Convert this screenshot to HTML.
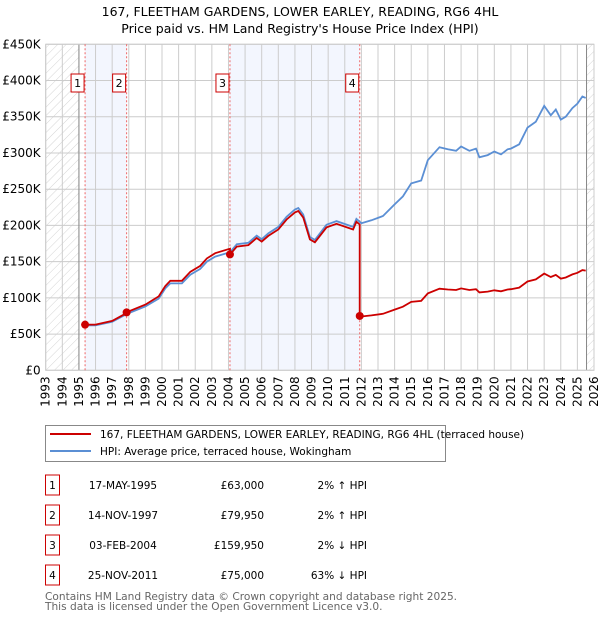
<!DOCTYPE html>
<html><head><meta charset="utf-8"><style>
body{margin:0;background:#fff;font-family:"DejaVu Sans","Liberation Sans",sans-serif;}
svg text{font-family:"DejaVu Sans","Liberation Sans",sans-serif;}
</style></head><body>
<svg id="chart" width="600" height="620" xmlns="http://www.w3.org/2000/svg">
<defs><pattern id="hatch" width="6" height="6" patternUnits="userSpaceOnUse" patternTransform="rotate(45)"><line x1="0" y1="0" x2="0" y2="6" stroke="#d4d4d4" stroke-width="1"/></pattern></defs>
<text x="300" y="16" text-anchor="middle" font-size="12.5">167, FLEETHAM GARDENS, LOWER EARLEY, READING, RG6 4HL</text>
<text x="300" y="33" text-anchor="middle" font-size="12.5">Price paid vs. HM Land Registry's House Price Index (HPI)</text>
<g id="plot"></g>
<g>
<rect x="45.5" y="425.5" width="400" height="36" fill="#fff" stroke="#888"/>
<line x1="50" y1="434" x2="91" y2="434" stroke="#cc0000" stroke-width="2"/>
<text x="100" y="438" font-size="10.5">167, FLEETHAM GARDENS, LOWER EARLEY, READING, RG6 4HL (terraced house)</text>
<line x1="50" y1="451" x2="91" y2="451" stroke="#5b8fd4" stroke-width="2"/>
<text x="100" y="455" font-size="10.5">HPI: Average price, terraced house, Wokingham</text>
</g>
<g id="table" font-size="10.5"></g>
<text x="45" y="600" font-size="10.6" fill="#666">Contains HM Land Registry data © Crown copyright and database right 2025.</text>
<text x="45" y="610" font-size="10.6" fill="#666">This data is licensed under the Open Government Licence v3.0.</text>
</svg>
<script>
const hpiYears=[1995.0,1995.4,1996,1997,1997.9,1999,1999.8,2000.2,2000.5,2001.2,2001.7,2002.3,2002.7,2003.2,2004.1,2004.5,2005.2,2005.7,2006,2006.4,2007,2007.5,2008,2008.2,2008.5,2008.9,2009.2,2009.9,2010.5,2011.5,2011.7,2012,2012.6,2013.3,2014,2014.5,2015,2015.6,2016,2016.7,2017.2,2017.7,2018,2018.5,2018.9,2019.1,2019.6,2020,2020.4,2020.8,2021,2021.5,2022,2022.5,2023,2023.4,2023.7,2024,2024.3,2024.7,2025,2025.3,2025.5];
const hpiValues=[61,62,62,67,78,88,99,113,120,120,132,140,150,157,163,174,176,186,181,189,198,212,222,224,215,184,180,201,206,198,209,203,207,213,229,240,258,262,290,308,305,303,309,303,306,294,297,302,298,305,306,312,335,343,365,352,360,346,350,362,368,378,376];
const saleYears=[1995.37,1997.87,2004.09,2011.9];
const salePrices=[63000,79950,159950,75000];
const saleLabels=["1","2","3","4"];
const saleDates=["17-MAY-1995","14-NOV-1997","03-FEB-2004","25-NOV-2011"];
const salePriceText=["£63,000","£79,950","£159,950","£75,000"];
const saleHpiText=["2% ↑ HPI","2% ↑ HPI","2% ↓ HPI","63% ↓ HPI"];
const yTicks=[0,50,100,150,200,250,300,350,400,450];
const yTickLabels=["£0","£50K","£100K","£150K","£200K","£250K","£300K","£350K","£400K","£450K"];
const xStart=1993,xEnd=2026;

const L=45.7,R=594,T=44.3,B=370.3,NS="http://www.w3.org/2000/svg";
const X=y=>L+(y-xStart)/(xEnd-xStart)*(R-L);
const Y=v=>B-v/450*(B-T);
function el(t,a,p){const e=document.createElementNS(NS,t);for(const k in a)e.setAttribute(k,a[k]);(p||plot).appendChild(e);return e;}
const plot=document.getElementById('plot');
function hpiAt(t){for(let i=1;i<hpiYears.length;i++){if(t<=hpiYears[i]){const f=(t-hpiYears[i-1])/(hpiYears[i]-hpiYears[i-1]);return hpiValues[i-1]+f*(hpiValues[i]-hpiValues[i-1]);}}return hpiValues[hpiValues.length-1];}
let b=el('rect',{x:X(saleYears[0]),y:T,width:X(saleYears[1])-X(saleYears[0]),height:B-T,fill:'#f3f6fe'});

b=el('rect',{x:X(saleYears[2]),y:T,width:X(saleYears[3])-X(saleYears[2]),height:B-T,fill:'#f3f6fe'});

let h=el('rect',{x:L,y:T,width:X(1995)-L,height:B-T,fill:'url(#hatch)'});

h=el('rect',{x:X(2025.55),y:T,width:R-X(2025.55),height:B-T,fill:'url(#hatch)'});

for(let yr=xStart;yr<=xEnd;yr++){const g=el('line',{x1:X(yr),x2:X(yr),y1:T,y2:B,stroke:'#ccc','stroke-width':1});

const tx=el('text',{x:0,y:0,'font-size':12,'text-anchor':'end',transform:`translate(${X(yr)+4},${B+6}) rotate(-90)`});tx.textContent=yr;
}
yTicks.forEach((v,i)=>{const g=el('line',{x1:L,x2:R,y1:Y(v),y2:Y(v),stroke:'#ccc','stroke-width':1});

const tx=el('text',{x:L-5,y:Y(v)+4,'font-size':12,'text-anchor':'end'});tx.textContent=yTickLabels[i];
});
[1995,2025.55].forEach(yr=>{const g=el('line',{x1:X(yr),x2:X(yr),y1:T,y2:B,stroke:'#888','stroke-width':1});});
let fr=el('rect',{x:L,y:T,width:R-L,height:B-T,fill:'none',stroke:'#ccc'});

saleYears.forEach((s,i)=>{const l=el('line',{x1:X(s),x2:X(s),y1:T,y2:B,stroke:'#e66','stroke-width':1,'stroke-dasharray':'2,2'});

const bx=el('rect',{x:X(s)-14,y:74,width:13,height:18,fill:'#fff',stroke:'#cc0000'});

const t=el('text',{x:X(s)-7.5,y:87,'font-size':11,'text-anchor':'middle'});t.textContent=saleLabels[i];
});
let d='M'+X(1995.37)+','+Y(hpiAt(1995.37))+hpiYears.filter(y=>y>1995.37).map(y=>'L'+X(y).toFixed(1)+','+Y(hpiAt(y)).toFixed(1)).join('');
const hl=el('path',{d:d,fill:'none',stroke:'#5b8fd4','stroke-width':1.8});

let pd='';
saleYears.forEach((s,i)=>{const end=i<saleYears.length-1?saleYears[i+1]:hpiYears[hpiYears.length-1];
const base=salePrices[i]/1000/hpiAt(s);const pts=[s].concat(hpiYears.filter(y=>y>s&&y<end),[end]);
pts.forEach((y,j)=>{pd+=(pd===''?'M':'L')+X(y).toFixed(1)+','+Y(base*hpiAt(y)).toFixed(1);});});
const pl=el('path',{d:pd,fill:'none',stroke:'#cc0000','stroke-width':1.8});

saleYears.forEach((s,i)=>{const c=el('circle',{cx:X(s),cy:Y(salePrices[i]/1000),r:4,fill:'#cc0000'});
});
const tb=document.getElementById('table');
saleYears.forEach((s,i)=>{const cy=485+i*30;
const r=el('rect',{x:45.5,y:cy-10,width:14,height:20,fill:'#fff',stroke:'#cc0000'},tb);
const a=el('text',{x:52.5,y:cy+4,'text-anchor':'middle'},tb);a.textContent=saleLabels[i];
const b2=el('text',{x:123,y:cy+4,'text-anchor':'middle'},tb);b2.textContent=saleDates[i];
const c2=el('text',{x:264,y:cy+4,'text-anchor':'end'},tb);c2.textContent=salePriceText[i];
const e2=el('text',{x:367,y:cy+4,'text-anchor':'end'},tb);e2.textContent=saleHpiText[i];});
</script>
</body></html>
